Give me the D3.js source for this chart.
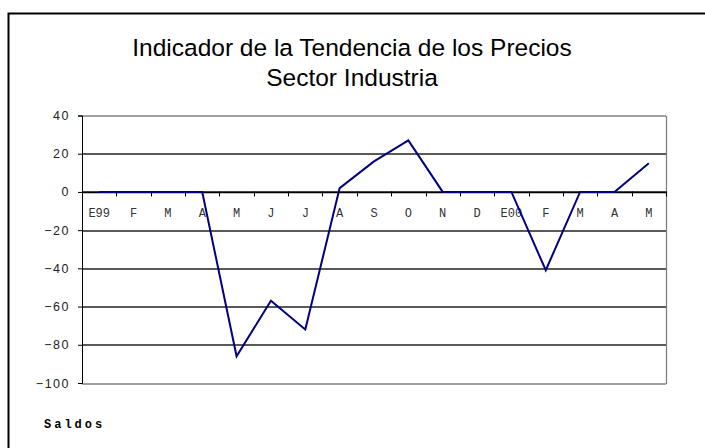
<!DOCTYPE html>
<html>
<head>
<meta charset="utf-8">
<script src="https://cdn.jsdelivr.net/npm/d3@7"></script>
<style>
  html, body { margin: 0; background: #fff; overflow: hidden; }
  svg { display: block; }
</style>
</head>
<body>
<div id="chart"></div>
<script>
// data
var months = ["E99", "F", "M", "A", "M", "J", "J", "A", "S", "O", "N", "D", "E00", "F", "M", "A", "M"];
var saldos = [0, 0, 0, 0, -86, -57, -72, 2, 16, 27, 0, 0, 0, -41, 0, 0, 15];
var yTicks = [40, 20, 0, -20, -40, -60, -80, -100];

var W = 705, H = 448;
var margin = {top: 115.5, right: 39, bottom: 65, left: 82},
    width = W - margin.left - margin.right,
    height = H - margin.top - margin.bottom;

var svg = d3.select("#chart")
  .append("svg")
    .attr("width", W)
    .attr("height", H);

// outer frame: only the top and left edges show in the picture
svg.append("path")
    .attr("d", "M8.5," + H + "V13.5H" + W)
    .attr("fill", "none")
    .attr("stroke", "#000")
    .attr("stroke-width", 2);

// title
svg.append("text")
    .attr("x", 352).attr("y", 56)
    .attr("text-anchor", "middle")
    .style("font-family", "Liberation Sans, Arial, sans-serif")
    .style("font-size", "24.5px")
    .text("Indicador de la Tendencia de los Precios");
svg.append("text")
    .attr("x", 352).attr("y", 86)
    .attr("text-anchor", "middle")
    .style("font-family", "Liberation Sans, Arial, sans-serif")
    .style("font-size", "24.5px")
    .text("Sector Industria");

var g = svg.append("g")
    .attr("transform", "translate(" + margin.left + "," + margin.top + ")");

var x = d3.scaleBand()
    .domain(d3.range(months.length))
    .range([0, width]);

var y = d3.scaleLinear()
    .domain([-100, 40])
    .range([height, 0]);

// gridlines
g.selectAll(".grid")
  .data(yTicks)
  .enter().append("line")
    .attr("x1", 0).attr("x2", width)
    .attr("y1", function(d) { return Math.round(y(d)) + 0.5; })
    .attr("y2", function(d) { return Math.round(y(d)) + 0.5; })
    .attr("stroke", function(d) { return (d == 40 || d == -100) ? "#808080" : "#222"; })
    .attr("stroke-width", 1.3);

// right border of plot area
g.append("line")
    .attr("x1", width + 0.5).attr("x2", width + 0.5)
    .attr("y1", Math.round(y(40)) + 0.5).attr("y2", Math.round(y(-100)) + 0.5)
    .attr("stroke", "#808080")
    .attr("stroke-width", 1.3);

// Y axis
var yAxis = g.append("g")
    .call(d3.axisLeft(y).tickValues(yTicks).tickSize(4).tickPadding(8)
      .tickFormat(function(d) { return d < 0 ? "\u2212" + Math.abs(d) : d; }));
yAxis.select(".domain").attr("stroke", "#000");
yAxis.selectAll("text")
    .style("font-family", "Liberation Sans, Arial, sans-serif")
    .style("font-size", "12.5px")
    .style("letter-spacing", "1.5px")
    .attr("fill", "#222");

// X axis sitting at zero
var xAxis = g.append("g")
    .attr("transform", "translate(0," + (Math.round(y(0)) + 0.5) + ")")
    .call(d3.axisBottom(x).tickSize(0).tickPadding(16)
      .tickFormat(function(d) { return months[d]; }));
xAxis.select(".domain").attr("stroke", "#000").attr("stroke-width", 1.3);
xAxis.selectAll("text")
    .style("font-family", "Liberation Mono, Courier New, monospace")
    .style("font-size", "12px")
    .attr("fill", "#333");

// tick marks at band edges
g.selectAll(".xtick")
  .data(d3.range(months.length + 1))
  .enter().append("line")
    .attr("x1", function(d) { return Math.round(d * x.step()) + 0.5; })
    .attr("x2", function(d) { return Math.round(d * x.step()) + 0.5; })
    .attr("y1", Math.round(y(0)))
    .attr("y2", Math.round(y(0)) + 5)
    .attr("stroke", "#000");

// the series line
var line = d3.line()
    .x(function(d, i) { return x(i) + x.bandwidth() / 2; })
    .y(function(d) { return y(d); });

g.append("path")
    .datum(saldos)
    .attr("d", line)
    .attr("fill", "none")
    .attr("stroke", "#000080")
    .attr("stroke-width", 2);

// footnote
svg.append("text")
    .attr("x", 44).attr("y", 428)
    .style("font-family", "Liberation Mono, Courier New, monospace")
    .style("font-size", "12px")
    .style("font-weight", "bold")
    .style("letter-spacing", "3px")
    .text("Saldos");
</script>
</body>
</html>
